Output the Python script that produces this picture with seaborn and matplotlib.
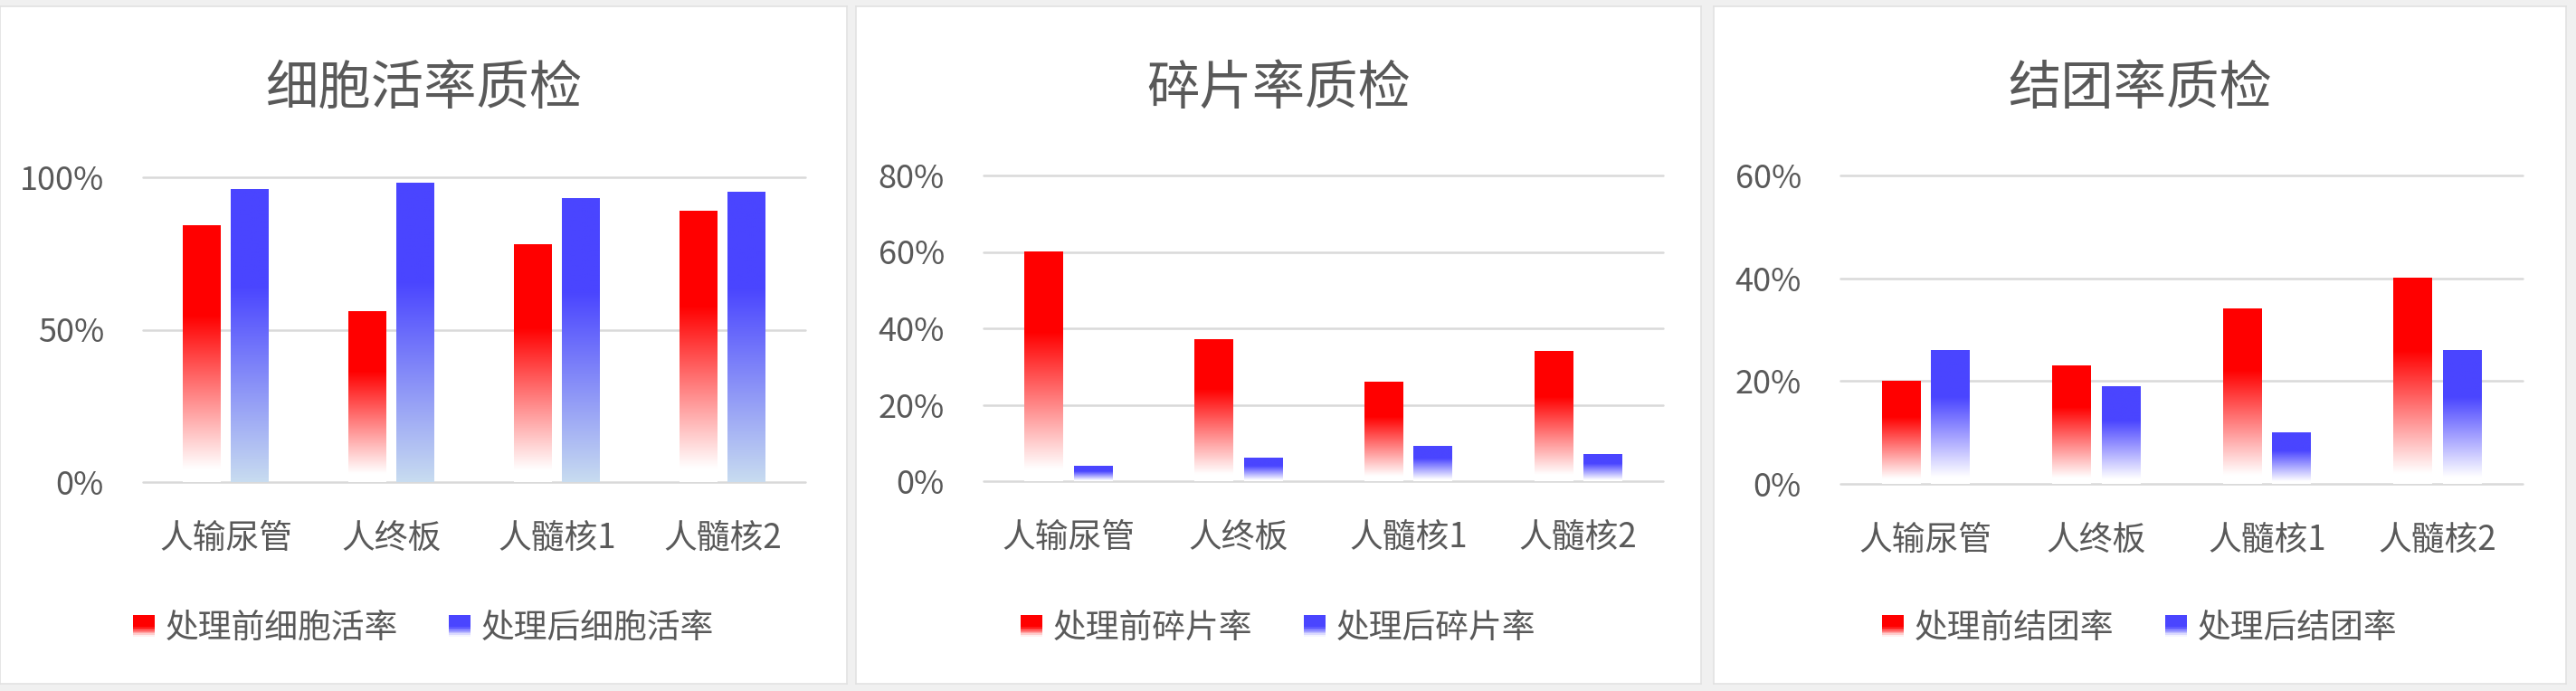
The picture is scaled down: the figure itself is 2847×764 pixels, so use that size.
import numpy as np
import pandas as pd
import matplotlib
matplotlib.use("Agg")
import matplotlib.pyplot as plt
import seaborn as sns
from matplotlib.colors import LinearSegmentedColormap
from matplotlib.legend_handler import HandlerBase
from matplotlib.patches import Rectangle, Patch
from matplotlib.ticker import PercentFormatter, MultipleLocator

# data
categories = ['人输尿管', '人终板', '人髓核1', '人髓核2']

viability_before = [0.84, 0.56, 0.78, 0.89]
viability_after = [0.96, 0.98, 0.93, 0.95]
fragment_before = [0.60, 0.37, 0.26, 0.34]
fragment_after = [0.04, 0.06, 0.09, 0.07]
clump_before = [0.20, 0.23, 0.34, 0.40]
clump_after = [0.26, 0.19, 0.10, 0.26]

titles = ['细胞活率质检', '碎片率质检', '结团率质检']
labels_before = ['处理前细胞活率', '处理前碎片率', '处理前结团率']
labels_after = ['处理后细胞活率', '处理后碎片率', '处理后结团率']
y_max = [1.0, 0.8, 0.6]
y_step = [0.5, 0.2, 0.2]

TEXT = '#595959'
GRID = '#d9d9d9'
RED = '#ff0000'
BLUE = '#4a45ff'

W, H = 2847, 764

sns.set_style('white')
plt.rcParams['font.family'] = ['Noto Sans CJK SC', 'DejaVu Sans']


def rect(x0, y0, x1, y1):
    return [x0 / W, 1 - y1 / H, (x1 - x0) / W, (y1 - y0) / H]


red_stops = [(0, RED), (0.35, RED), (0.95, '#ffffff'), (1, '#ffffff')]
blue_stops_light = [(0, BLUE), (0.33, BLUE), (1, '#c8dcf0')]
blue_stops_white = [(0, BLUE), (0.35, BLUE), (0.95, '#ffffff'), (1, '#ffffff')]


def make_cmap(stops, name):
    return LinearSegmentedColormap.from_list(name, stops)


class GradHandler(HandlerBase):
    # legend square filled with a top-to-bottom gradient
    def __init__(self, cmap):
        super().__init__()
        self.cmap = cmap

    def create_artists(self, legend, orig_handle, xdescent, ydescent,
                       width, height, fontsize, trans):
        n = 16
        arts = []
        for k in range(n):
            c = self.cmap((k + 0.5) / n)
            y = -ydescent + height * (1 - (k + 1) / n)
            arts.append(Rectangle((-xdescent, y), width, height / n + 0.3,
                                  facecolor=c, edgecolor='none', transform=trans))
        return arts


fig = plt.figure(figsize=(W / 100, H / 100), dpi=100)
fig.patch.set_facecolor('#f0f0f0')

panels = [(0, 7, 936, 756), (946, 7, 1880, 756), (1894, 7, 2836, 756)]
plots = [(158, 196, 890, 533), (1087, 194, 1838, 532), (2034, 194, 2788, 535)]
series = [(viability_before, viability_after),
          (fragment_before, fragment_after),
          (clump_before, clump_after)]

for i in range(3):
    bg = fig.add_axes(rect(*panels[i]))
    bg.set_facecolor('white')
    for s in bg.spines.values():
        s.set_color('#e2e2e2')
        s.set_linewidth(1.2)
    bg.set_xticks([])
    bg.set_yticks([])
    bg.text(0.5, 0.878, titles[i], transform=bg.transAxes, ha='center', va='center',
            fontsize=42, color=TEXT)

    before, after = series[i]
    df = pd.DataFrame({
        'category': categories * 2,
        'value': before + after,
        'series': [labels_before[i]] * 4 + [labels_after[i]] * 4,
    })

    ax = fig.add_axes(rect(*plots[i]))
    ax.patch.set_alpha(0)
    sns.barplot(data=df, x='category', y='value', hue='series', palette=[RED, BLUE],
                width=0.58, gap=0.22, saturation=1, errorbar=None, legend=False, ax=ax)

    # swap the flat bars for gradient images of the same extent
    red_cmap = make_cmap(red_stops, 'r%d' % i)
    blue_cmap = make_cmap(blue_stops_light if i == 0 else blue_stops_white, 'b%d' % i)
    grad = np.linspace(0, 1, 256).reshape(-1, 1)
    for p in list(ax.patches):
        x0, w, h = p.get_x(), p.get_width(), p.get_height()
        fc = p.get_facecolor()
        cmap = red_cmap if fc[0] > 0.9 and fc[2] < 0.5 else blue_cmap
        ax.imshow(grad, cmap=cmap, extent=[x0, x0 + w, 0, h], aspect='auto',
                  origin='upper', interpolation='bilinear', zorder=2)
        p.set_visible(False)

    ax.set_xlim(-0.5, 3.5)
    ax.set_ylim(0, y_max[i])
    ax.yaxis.set_major_locator(MultipleLocator(y_step[i]))
    ax.yaxis.set_major_formatter(PercentFormatter(1.0, decimals=0))
    ax.yaxis.grid(True, color=GRID, linewidth=1.8)
    for gl in ax.get_ygridlines():
        gl.set_clip_on(False)
    ax.set_axisbelow(True)
    sns.despine(ax=ax, left=True, bottom=True)
    ax.set_xlabel('')
    ax.set_ylabel('')
    ax.tick_params(axis='y', length=0, pad=31, labelsize=26, labelcolor=TEXT)
    ax.tick_params(axis='x', length=0, pad=31, labelsize=26.5, labelcolor=TEXT)

    h_red = Patch(label=labels_before[i])
    h_blue = Patch(label=labels_after[i])
    bg.legend(handles=[h_red, h_blue], loc='center', bbox_to_anchor=(0.5, 0.082),
              ncol=2, frameon=False, fontsize=26.5, labelcolor=TEXT,
              handlelength=0.65, handleheight=0.6, handletextpad=0.32,
              columnspacing=1.54,
              handler_map={h_red: GradHandler(make_cmap([(0, RED), (0.55, RED), (1, '#ffffff')], 'lr')),
                           h_blue: GradHandler(make_cmap([(0, BLUE), (0.55, BLUE), (1, '#ffffff')], 'lb'))})

fig.savefig('out.png', dpi=100, facecolor=fig.get_facecolor())
